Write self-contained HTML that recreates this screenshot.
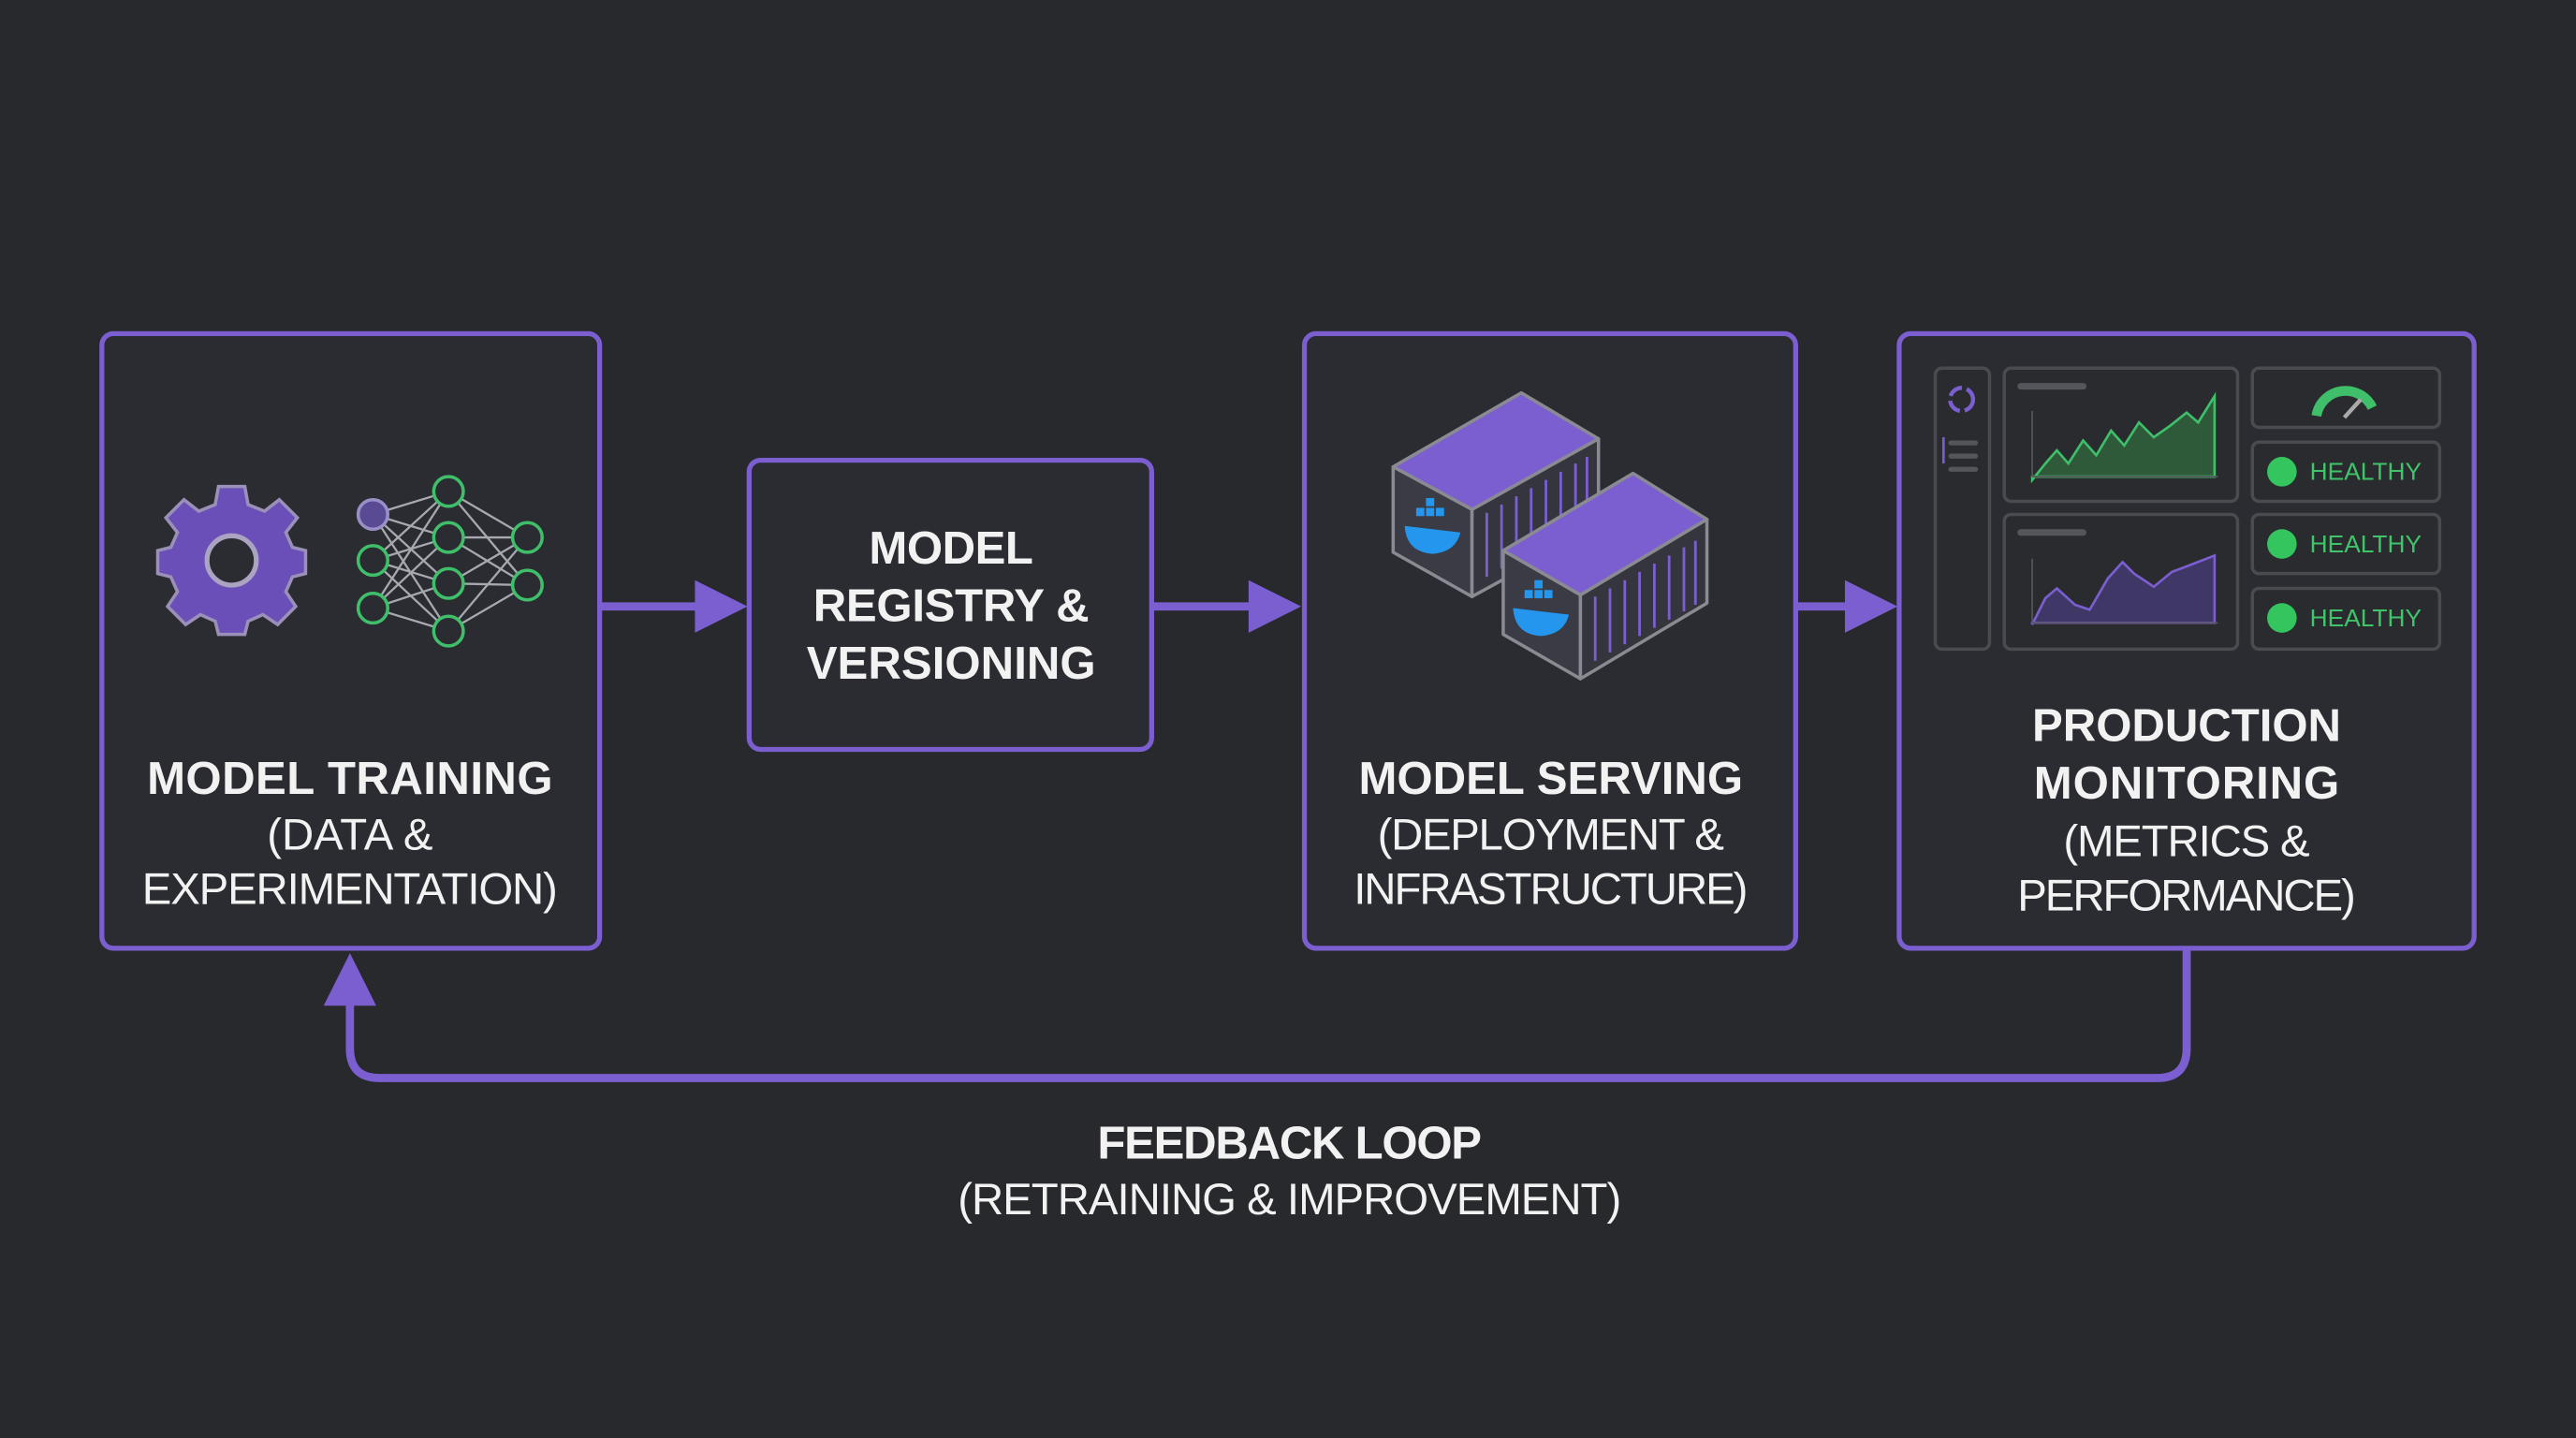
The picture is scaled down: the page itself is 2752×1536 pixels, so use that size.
<!DOCTYPE html>
<html><head><meta charset="utf-8"><style>
html,body{margin:0;padding:0;background:#28292d;}
svg{display:block}
text{font-family:"Liberation Sans",sans-serif;fill:#f2f2f2;text-anchor:middle}
.b{font-weight:bold;font-size:28px}
.r{font-size:27px}
</style></head><body>
<svg width="2752" height="1536" viewBox="0 0 1568 875" xmlns="http://www.w3.org/2000/svg">
<rect width="1568" height="875" fill="#28292d"/>
<g fill="#2b2c31" stroke="#7b5fd0" stroke-width="3">
<rect x="62" y="203" width="303" height="374" rx="7"/>
<rect x="456" y="280" width="245" height="176" rx="7"/>
<rect x="794" y="203" width="299" height="374" rx="7"/>
<rect x="1156" y="203" width="350" height="374" rx="7"/>
</g>
<!-- arrows -->
<g stroke="#7b5fd0" stroke-width="5" fill="none">
<line x1="366" y1="369" x2="428" y2="369"/>
<line x1="702" y1="369" x2="765" y2="369"/>
<line x1="1094" y1="369" x2="1128" y2="369"/>
<path d="M1331 578 V638 Q1331 656 1313 656 H231 Q213 656 213 638 V608"/>
</g>
<g fill="#7b5fd0">
<polygon points="423,353 455,369 423,385"/>
<polygon points="760,353 792,369 760,385"/>
<polygon points="1123,353 1155,369 1123,385"/>
<polygon points="197,612 213,580 229,612"/>
</g>
<!-- gear -->
<g transform="translate(141,341)">
<g fill="#6a4fb8" stroke="#9a90b8" stroke-width="2">
<path d="M-8,-45 L8,-45 L10,-34 L20,-30 L29,-37 L40,-26 L33,-17 L37,-8 L45,-6 L45,8 L37,10 L33,19 L39,28 L28,39 L19,33 L10,37 L8,45 L-8,45 L-10,37 L-19,33 L-28,39 L-39,28 L-33,19 L-37,10 L-45,8 L-45,-6 L-37,-8 L-33,-17 L-40,-26 L-29,-37 L-20,-30 L-10,-34 Z"/>
</g>
<circle r="15" fill="#2b2c31" stroke="#aaa3c2" stroke-width="3"/>
</g>
<!-- neural net -->
<g stroke="#a8a8b0" stroke-width="1.3">
<line x1="227" y1="313" x2="273" y2="299"/><line x1="227" y1="313" x2="273" y2="327"/><line x1="227" y1="313" x2="273" y2="355"/><line x1="227" y1="313" x2="273" y2="384"/>
<line x1="227" y1="341" x2="273" y2="299"/><line x1="227" y1="341" x2="273" y2="327"/><line x1="227" y1="341" x2="273" y2="355"/><line x1="227" y1="341" x2="273" y2="384"/>
<line x1="227" y1="370" x2="273" y2="299"/><line x1="227" y1="370" x2="273" y2="327"/><line x1="227" y1="370" x2="273" y2="355"/><line x1="227" y1="370" x2="273" y2="384"/>
<line x1="273" y1="299" x2="321" y2="327"/><line x1="273" y1="299" x2="321" y2="356"/>
<line x1="273" y1="327" x2="321" y2="327"/><line x1="273" y1="327" x2="321" y2="356"/>
<line x1="273" y1="355" x2="321" y2="327"/><line x1="273" y1="355" x2="321" y2="356"/>
<line x1="273" y1="384" x2="321" y2="327"/><line x1="273" y1="384" x2="321" y2="356"/>
</g>
<g fill="#2b2c31" stroke="#3fbf6a" stroke-width="2">
<circle cx="227" cy="313" r="9" stroke="#9a90c8" fill="#5a4a94"/>
<circle cx="227" cy="341" r="9"/><circle cx="227" cy="370" r="9"/>
<circle cx="273" cy="299" r="9"/><circle cx="273" cy="327" r="9"/><circle cx="273" cy="355" r="9"/><circle cx="273" cy="384" r="9"/>
<circle cx="321" cy="327" r="9"/><circle cx="321" cy="356" r="9"/>
</g>
<!-- containers -->
<g id="c1" stroke="#8a8a92" stroke-width="2" stroke-linejoin="round">
<polygon points="848,284 926,239 973,267 896,310" fill="#7b5fd0"/>
<polygon points="848,284 896,310 896,363 848,336" fill="#3a3b44"/>
<polygon points="896,310 973,267 973,321 896,363" fill="#34353d"/>
</g>
<g stroke="#7b5fd0" stroke-width="1.6">
<line x1="905" y1="312" x2="905" y2="351"/><line x1="914" y1="307" x2="914" y2="346"/><line x1="923" y1="302" x2="923" y2="341"/><line x1="932" y1="297" x2="932" y2="336"/><line x1="941" y1="292" x2="941" y2="331"/><line x1="950" y1="287" x2="950" y2="326"/><line x1="959" y1="282" x2="959" y2="321"/><line x1="966" y1="278" x2="966" y2="317"/>
</g>
<path d="M855 320 Q856 336 872 337 Q886 336 889 324 Z" fill="#2496ed"/>
<rect x="862" y="309" width="5" height="5" fill="#2496ed"/><rect x="868" y="309" width="5" height="5" fill="#2496ed"/><rect x="868" y="303" width="5" height="5" fill="#2496ed"/><rect x="874" y="309" width="5" height="5" fill="#2496ed"/>
<g stroke="#8a8a92" stroke-width="2" stroke-linejoin="round">
<polygon points="915,335 994,288 1039,316 962,362" fill="#7b5fd0"/>
<polygon points="915,335 962,362 962,413 915,386" fill="#3a3b44"/>
<polygon points="962,362 1039,316 1039,367 962,413" fill="#34353d"/>
</g>
<g stroke="#7b5fd0" stroke-width="1.6">
<line x1="971" y1="363" x2="971" y2="402"/><line x1="980" y1="358" x2="980" y2="397"/><line x1="989" y1="353" x2="989" y2="392"/><line x1="998" y1="348" x2="998" y2="387"/><line x1="1007" y1="343" x2="1007" y2="382"/><line x1="1016" y1="338" x2="1016" y2="377"/><line x1="1025" y1="333" x2="1025" y2="372"/><line x1="1032" y1="329" x2="1032" y2="368"/>
</g>
<path d="M921 370 Q922 386 938 387 Q952 386 955 374 Z" fill="#2496ed"/>
<rect x="928" y="359" width="5" height="5" fill="#2496ed"/><rect x="934" y="359" width="5" height="5" fill="#2496ed"/><rect x="934" y="353" width="5" height="5" fill="#2496ed"/><rect x="940" y="359" width="5" height="5" fill="#2496ed"/>
<!-- dashboard -->
<g fill="#2a2b2f" stroke="#4a4b50" stroke-width="2">
<rect x="1178" y="224" width="33" height="171" rx="4"/>
<rect x="1220" y="224" width="142" height="81" rx="4"/>
<rect x="1220" y="313" width="142" height="82" rx="4"/>
<rect x="1371" y="224" width="114" height="36" rx="4"/>
<rect x="1371" y="269" width="114" height="36" rx="4"/>
<rect x="1371" y="313" width="114" height="36" rx="4"/>
<rect x="1371" y="358" width="114" height="37" rx="4"/>
</g>
<circle cx="1194" cy="243" r="7" fill="none" stroke="#7b5fd0" stroke-width="2.5" stroke-dasharray="9 3"/>
<g fill="#55565c"><rect x="1186" y="268" width="18" height="3" rx="1.5"/><rect x="1186" y="276" width="18" height="3" rx="1.5"/><rect x="1186" y="284" width="18" height="3" rx="1.5"/>
<rect x="1228" y="233" width="42" height="4" rx="2"/><rect x="1228" y="322" width="42" height="4" rx="2"/></g>
<line x1="1183" y1="266" x2="1183" y2="282" stroke="#7b5fd0" stroke-width="1.5"/>
<path d="M1237 292 L1245 282 L1252 274 L1259 282 L1268 268 L1276 277 L1285 262 L1293 271 L1302 257 L1311 266 L1321 259 L1331 251 L1338 257 L1348 241 L1348 290 L1237 290 Z" fill="#2f5a3a" stroke="#3fbf6a" stroke-width="1.5"/>
<path d="M1237 380 L1245 364 L1252 358 L1263 368 L1272 371 L1283 352 L1292 342 L1299 349 L1311 357 L1322 348 L1330 345 L1348 338 L1348 379 L1237 379 Z" fill="#3f3766" stroke="#7b5fd0" stroke-width="1.5"/>
<g stroke="#55565c" stroke-width="1"><line x1="1237" y1="290" x2="1350" y2="290"/><line x1="1237" y1="250" x2="1237" y2="290"/><line x1="1237" y1="340" x2="1237" y2="379"/><line x1="1237" y1="379" x2="1350" y2="379"/></g>
<path d="M1410 253 A18 18 0 0 1 1444 248" fill="none" stroke="#3fbf6a" stroke-width="6"/>
<line x1="1427" y1="254" x2="1437" y2="243" stroke="#aaa" stroke-width="2.5"/>
<g fill="#34c55e"><circle cx="1389" cy="287" r="9"/><circle cx="1389" cy="331" r="9"/><circle cx="1389" cy="376" r="9"/></g>
<g style="font-size:15px;fill:#3fc46a;text-anchor:start">
<text x="1406" y="292" textLength="68" style="fill:#3fc46a;text-anchor:start">HEALTHY</text>
<text x="1406" y="336" textLength="68" style="fill:#3fc46a;text-anchor:start">HEALTHY</text>
<text x="1406" y="381" textLength="68" style="fill:#3fc46a;text-anchor:start">HEALTHY</text>
</g>
<!-- labels -->
<text class="b" x="213" y="483" textLength="247">MODEL TRAINING</text>
<text class="r" x="213" y="517" textLength="101">(DATA &amp;</text>
<text class="r" x="213" y="550" textLength="253">EXPERIMENTATION)</text>
<text class="b" x="579" y="343" textLength="100">MODEL</text>
<text class="b" x="579" y="378" textLength="168">REGISTRY &amp;</text>
<text class="b" x="579" y="413" textLength="176">VERSIONING</text>
<text class="b" x="944" y="483" textLength="234">MODEL SERVING</text>
<text class="r" x="944" y="517" textLength="211">(DEPLOYMENT &amp;</text>
<text class="r" x="944" y="550" textLength="240">INFRASTRUCTURE)</text>
<text class="b" x="1331" y="451" textLength="188">PRODUCTION</text>
<text class="b" x="1331" y="486" textLength="186">MONITORING</text>
<text class="r" x="1331" y="521" textLength="150">(METRICS &amp;</text>
<text class="r" x="1331" y="554" textLength="206">PERFORMANCE)</text>
<text class="b" x="785" y="705" textLength="234">FEEDBACK LOOP</text>
<text class="r" x="785" y="739" textLength="404">(RETRAINING &amp; IMPROVEMENT)</text>
</svg>
</body></html>
